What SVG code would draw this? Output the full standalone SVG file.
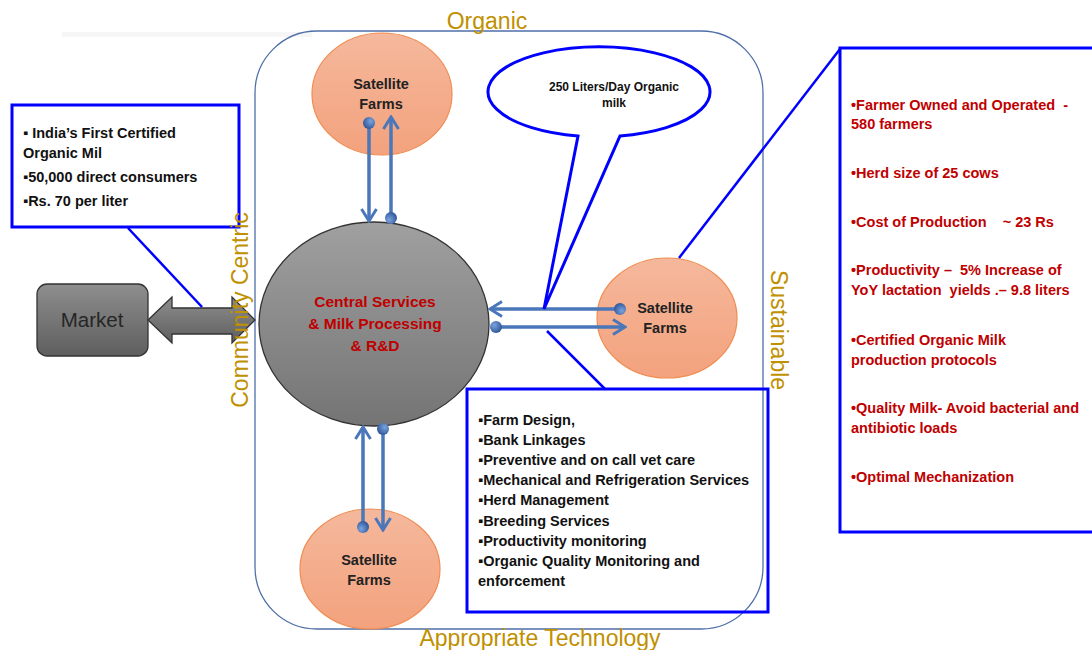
<svg xmlns="http://www.w3.org/2000/svg" width="1092" height="650" viewBox="0 0 1092 650">
<defs>
<linearGradient id="gGray" x1="0" y1="0" x2="0" y2="1"><stop offset="0" stop-color="#a0a0a0"/><stop offset="1" stop-color="#747474"/></linearGradient>
<linearGradient id="gMkt" x1="0" y1="0" x2="0" y2="1"><stop offset="0" stop-color="#8e8e8e"/><stop offset="1" stop-color="#5e5e5e"/></linearGradient>
<linearGradient id="gSat" x1="0" y1="0" x2="0" y2="1"><stop offset="0" stop-color="#f5b89c"/><stop offset="1" stop-color="#f3a27d"/></linearGradient>
<radialGradient id="gDot" cx="0.35" cy="0.35" r="0.7"><stop offset="0" stop-color="#7aa3de"/><stop offset="1" stop-color="#2f5597"/></radialGradient>
<marker id="arr" markerUnits="userSpaceOnUse" viewBox="0 0 16 18" refX="14" refY="9" markerWidth="16" markerHeight="18" orient="auto">
<path d="M2,1.5 L14,9 L2,16.5" fill="none" stroke="#4a76ba" stroke-width="3"/>
</marker>
<marker id="dot" markerUnits="userSpaceOnUse" viewBox="0 0 14 14" refX="7" refY="7" markerWidth="14" markerHeight="14" orient="auto">
<circle cx="7" cy="7" r="6" fill="url(#gDot)"/>
</marker>
</defs>
<style>
.lbl{font-family:"Liberation Sans",Arial,sans-serif;font-size:23px;fill:#bf9000;}
.sat{fill:url(#gSat);stroke:#f08c50;stroke-width:1.2;}
.st{font-family:"Liberation Sans",Arial,sans-serif;font-size:14.5px;font-weight:bold;fill:#222;text-anchor:middle;}
.con{stroke:#4a76ba;stroke-width:3.5;fill:none;marker-start:url(#dot);marker-end:url(#arr);}
.box{fill:none;stroke:#0000ff;stroke-width:3;}
.lead{stroke:#0000ff;stroke-width:2.5;fill:none;}
.bt{font-family:"Liberation Sans",Arial,sans-serif;font-size:14.5px;font-weight:bold;fill:#111;white-space:pre;}
.rt{font-family:"Liberation Sans",Arial,sans-serif;font-size:14.5px;font-weight:bold;fill:#c00000;white-space:pre;}
</style>
<rect width="1092" height="650" fill="#ffffff"/>
<rect x="62" y="32" width="250" height="5" fill="#f6f6f6"/>
<g id="frame">
<rect x="255" y="31" width="508" height="598" rx="62" ry="62" fill="none" stroke="#4f6fa8" stroke-width="1.3"/>
</g>
<g id="central">
<ellipse cx="374" cy="324" rx="115" ry="102" fill="url(#gGray)" stroke="#333" stroke-width="1.3"/>
<text text-anchor="middle" font-family="Liberation Sans, Arial, sans-serif" font-size="15.5" font-weight="bold" fill="#c00000"><tspan x="375" y="307">Central Services</tspan><tspan x="375" y="329">&amp; Milk Processing</tspan><tspan x="375" y="351">&amp; R&amp;D</tspan></text>
</g>
<g id="sat-top">
<ellipse class="sat" cx="382" cy="94" rx="70" ry="61"/>
<text class="st"><tspan x="381" y="89">Satellite</tspan><tspan x="381" y="109">Farms</tspan></text>
</g>
<g id="sat-right">
<ellipse class="sat" cx="667" cy="318" rx="70" ry="60"/>
<text class="st"><tspan x="665" y="313">Satellite</tspan><tspan x="665" y="333">Farms</tspan></text>
</g>
<g id="sat-bottom">
<ellipse class="sat" cx="370" cy="569" rx="70" ry="60"/>
<text class="st"><tspan x="369" y="565">Satellite</tspan><tspan x="369" y="585">Farms</tspan></text>
</g>
<g id="market">
<rect x="37" y="284" width="111" height="72" rx="10" ry="10" fill="url(#gMkt)" stroke="#333" stroke-width="1.3"/>
<text x="92" y="327" text-anchor="middle" font-family="Liberation Sans, Arial, sans-serif" font-size="20.5" fill="#262626">Market</text>
</g>
<g id="connectors">
<polygon points="148,320 172,297 172,308 232,308 232,297 255,320 232,343 232,334 172,334 172,343" fill="url(#gMkt)" stroke="#333" stroke-width="1.3"/>
<line class="con" x1="369" y1="123" x2="369" y2="221"/>
<line class="con" x1="391" y1="218" x2="391" y2="117"/>
<line class="con" x1="363" y1="527" x2="363" y2="427"/>
<line class="con" x1="383" y1="429" x2="383" y2="530"/>
<line class="con" x1="620" y1="309" x2="490" y2="309"/>
<line class="con" x1="496" y1="327" x2="625" y2="327"/>
</g>
<g id="callout-left">
<rect class="box" x="12" y="105" width="227" height="122" fill="#fff"/>
<line class="lead" x1="128" y1="228" x2="202" y2="307"/>
<text class="bt"><tspan x="23" y="138">▪ India’s First Certified</tspan><tspan x="23" y="158">Organic Mil</tspan><tspan x="23" y="182">▪50,000 direct consumers</tspan><tspan x="23" y="206">▪Rs. 70 per liter</tspan></text>
</g>
<g id="bubble">
<path d="M578,136 A111,45 0 1 1 620,136 L544,309 Z" fill="#fff" stroke="#0000ff" stroke-width="3" stroke-linejoin="miter"/>
<text text-anchor="middle" font-family="Liberation Sans, Arial, sans-serif" font-size="12" font-weight="bold" fill="#111"><tspan x="614" y="91">250 Liters/Day Organic</tspan><tspan x="614" y="107">milk</tspan></text>
</g>
<g id="callout-bottom">
<rect class="box" x="467" y="389" width="301" height="223"/>
<line class="lead" x1="547" y1="331" x2="605" y2="389"/>
<text class="bt"><tspan x="478" y="425">▪Farm Design,</tspan><tspan x="478" y="445">▪Bank Linkages</tspan><tspan x="478" y="465">▪Preventive and on call vet care</tspan><tspan x="478" y="485">▪Mechanical and Refrigeration Services</tspan><tspan x="478" y="505">▪Herd Management</tspan><tspan x="478" y="526">▪Breeding Services</tspan><tspan x="478" y="546">▪Productivity monitoring</tspan><tspan x="478" y="566">▪Organic Quality Monitoring and</tspan><tspan x="478" y="586">enforcement</tspan></text>
</g>
<g id="callout-right">
<rect class="box" x="840" y="48" width="260" height="484"/>
<line class="lead" x1="840" y1="49" x2="679" y2="258"/>
<text class="rt"><tspan x="851" y="110">•Farmer Owned and Operated  -</tspan><tspan x="851" y="129">580 farmers</tspan><tspan x="851" y="178">•Herd size of 25 cows</tspan><tspan x="851" y="227">•Cost of Production    ~ 23 Rs</tspan><tspan x="851" y="275">•Productivity –  5% Increase of</tspan><tspan x="851" y="295">YoY lactation  yields .– 9.8 liters</tspan><tspan x="851" y="345">•Certified Organic Milk</tspan><tspan x="851" y="365">production protocols</tspan><tspan x="851" y="413">•Quality Milk- Avoid bacterial and</tspan><tspan x="851" y="433">antibiotic loads</tspan><tspan x="851" y="482">•Optimal Mechanization</tspan></text>
</g>
<g id="labels">
<text class="lbl" x="487" y="29" text-anchor="middle">Organic</text>
<text class="lbl" x="540" y="646" text-anchor="middle">Appropriate Technology</text>
<text class="lbl" text-anchor="middle" transform="translate(248,310) rotate(-90)">Community Centric</text>
<text class="lbl" text-anchor="middle" transform="translate(771,330) rotate(90)">Sustainable</text>
</g>
</svg>
